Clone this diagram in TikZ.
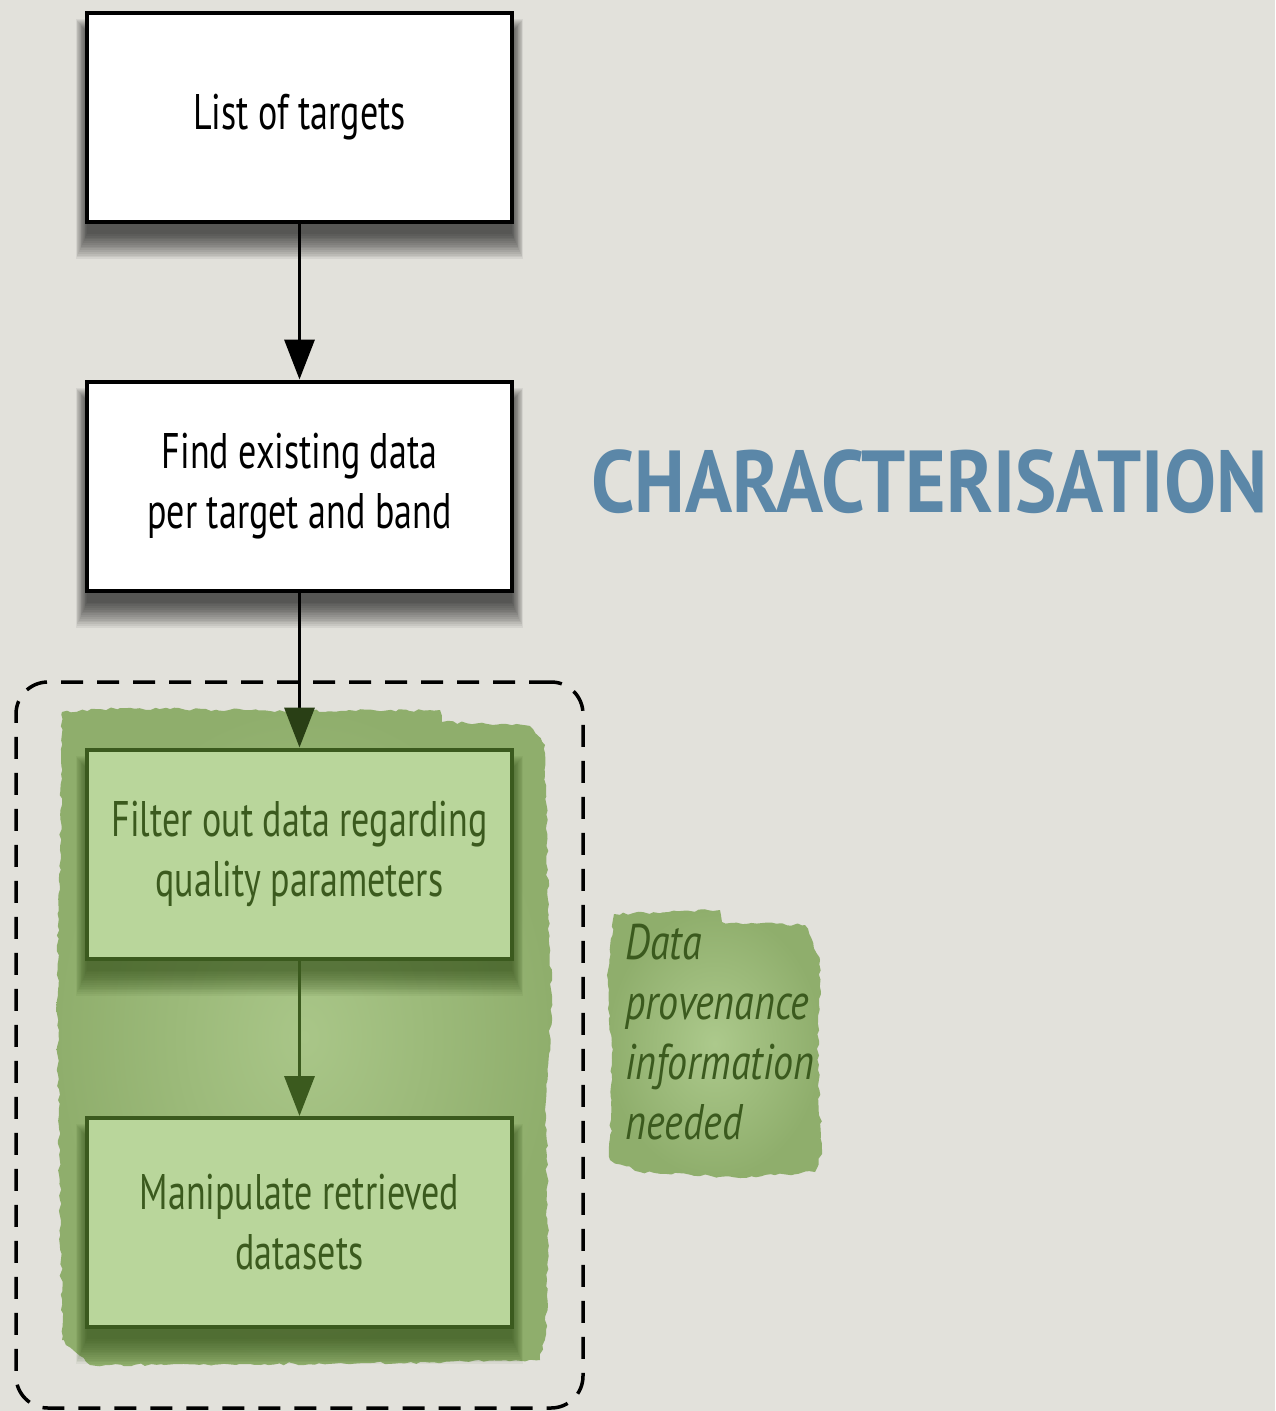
\documentclass[tikz,border=0pt]{standalone}
\usepackage{fontspec}
\usetikzlibrary{arrows.meta,decorations.pathmorphing}
\newfontfamily\cond{PT Sans}[FakeStretch=0.72]
\newfontfamily\condit{PT Sans Italic}[FakeStretch=0.80]
\newfontfamily\condb{PT Sans Bold}[FakeStretch=0.885]
\definecolor{paper}{HTML}{E2E1DB}
\definecolor{blotch}{HTML}{8FAE6C}
\definecolor{blotchin}{HTML}{A9C688}
\definecolor{boxgreen}{HTML}{B9D69B}
\definecolor{darkgreen}{HTML}{3B5A1E}
\definecolor{shadowgreen}{HTML}{2E4A14}
\definecolor{titleblue}{HTML}{5B87A8}
\tikzset{
  whitebox/.style={draw=black, line width=4pt, fill=white, minimum width=425pt, minimum height=209pt,
    align=center, font=\cond\fontsize{50}{60}\selectfont, text=black},
  greenbox/.style={draw=darkgreen, line width=4pt, fill=boxgreen, minimum width=425pt, minimum height=209pt,
    align=center, font=\cond\fontsize{50}{60}\selectfont, text=darkgreen},
  flow/.style={line width=3.5pt, -{Triangle[width=30pt,length=40pt]}},
  groupbox/.style={draw=black, line width=3.5pt, dash pattern=on 22pt off 14pt, rounded corners=32pt,
    minimum width=567pt, minimum height=726pt},
  note/.style={align=left, anchor=north west, font=\condit\fontsize{50}{60}\selectfont, text=darkgreen},
  rough/.style={decorate, decoration={random steps, segment length=5pt, amplitude=1.5pt}}
}
% soft shadow below a 425x209 box centred on coordinate #1
\newcommand{\softshadow}[2]{%
  \foreach \i in {0,...,14}{%
    \fill[#2, opacity=0.06] ([shift={(-212.5-0.8*\i,-84.5-\i)}]#1) rectangle ([shift={(212.5+0.8*\i,116.5+1.8*\i)}]#1);
  }}
\begin{document}
\begin{tikzpicture}[x=1pt,y=-1pt]
\fill[paper] (0,0) rectangle (1275,1411);
\useasboundingbox (0,0) rectangle (1275,1411);
% green blotches
\shade[rough, inner color=blotchin, outer color=blotch] (62,712) -- (120,708) -- (300,711) -- (440,710) -- (442,722) -- (530,726) -- (545,745)
  -- (548,900) -- (552,1000) -- (546,1100) -- (548,1250) -- (546,1330) -- (540,1360) -- (400,1363)
  -- (250,1364) -- (90,1365) -- (62,1340) -- (60,1200) -- (57,1000) -- (60,850) -- cycle;
\shade[rough, inner color=blotchin!80!boxgreen, outer color=blotch] (614,914) -- (720,910) -- (722,922) -- (805,925)
  -- (820,960) -- (818,1070) -- (822,1150) -- (815,1172) -- (740,1178) -- (640,1172) -- (610,1160)
  -- (612,1060) -- (608,980) -- cycle;
% box centres
\coordinate (c1) at (299.5,117.5);
\coordinate (c2) at (299.5,486);
\coordinate (c3) at (299.5,854);
\coordinate (c4) at (299.5,1222.5);
\softshadow{c1}{black}
\softshadow{c2}{black}
\softshadow{c3}{shadowgreen}
\softshadow{c4}{shadowgreen}
% boxes
\node[whitebox] (b1) at (c1) {List of targets};
\node[whitebox] (b2) at (c2) {Find existing data\\per target and band};
\node[greenbox] (b3) at (c3) {Filter out data regarding\\quality parameters};
\node[greenbox] (b4) at (c4) {Manipulate retrieved\\datasets};
% group
\node[groupbox] (grp) at (299.5,1045) {};
% arrows
\draw[flow] (b1.south) -- (b2.north);
\draw[flow, -{Triangle[width=30pt,length=40pt,color=darkgreen!70!black]}] (b2.south) -- (b3.north);
\draw[flow, draw=darkgreen, -{Triangle[width=30pt,length=40pt]}] (b3.south) -- (b4.north);
% note
\node[note] (prov) at (622,921) {Data\\provenance\\information\\needed};
% title
\node[anchor=base west, inner sep=0pt, text=titleblue, font=\condb\fontsize{88}{90}\selectfont] (title) at (591,512) {CHARACTERISATION};
\end{tikzpicture}
\end{document}
